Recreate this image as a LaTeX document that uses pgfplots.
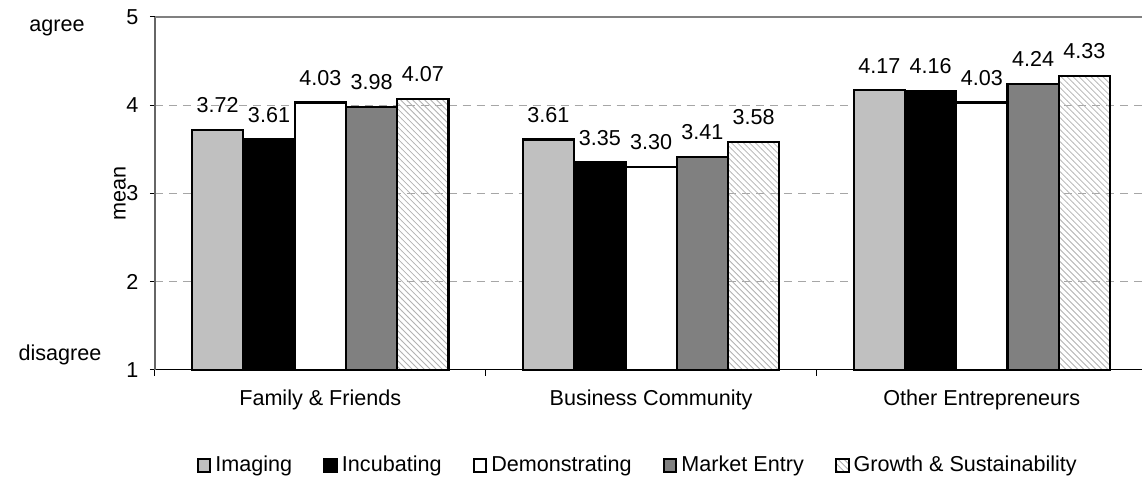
\documentclass[border=0pt]{standalone}
\usepackage{fontspec}
\setmainfont{Liberation Sans}
\usepackage{pgfplots}
\pgfplotsset{compat=1.18}
\usetikzlibrary{patterns}

\definecolor{imaging}{RGB}{192,192,192}
\definecolor{market}{RGB}{128,128,128}

\begin{document}
\fontsize{10.8}{13}\selectfont
\begin{tikzpicture}
\begin{axis}[
  name=ax,
  scale only axis,
  width=494pt, height=176.5pt,
  clip=false,
  ybar=0pt, bar width=0.155,
  xmin=-0.5, xmax=2.485,
  ymin=1, ymax=5,
  ytick={1,2,3,4,5},
  xtick={0,1,2},
  xticklabels={Family \& Friends, Business Community, Other Entrepreneurs},
  minor xtick={-0.5,0.5,1.5},
  major x tick style={draw=none},
  minor x tick style={black, line width=0.5pt},
  minor tick length=3pt,
  major tick length=2.5pt,
  y tick style={black, line width=0.5pt},
  tick align=outside,
  axis x line*=bottom, axis y line*=left,
  x axis line style={black, line width=0.7pt},
  y axis line style={black!60, line width=0.8pt},
  ymajorgrids,
  grid style={gray!70, dash pattern=on 4pt off 3pt, line width=0.4pt},
  /pgf/number format/assume math mode=true,
  xticklabel style={yshift=-4pt},
  yticklabel style={xshift=-2pt},
  nodes near coords={\pgfmathprintnumber[fixed,fixed zerofill,precision=2,assume math mode=true]{\pgfplotspointmeta}},
  every node near coord/.append style={anchor=south, inner sep=0pt, yshift=8pt, black},
  legend columns=5,
  legend style={at={(0.49,0)}, anchor=center, yshift=-48pt, draw=none,
    /tikz/every even column/.append style={column sep=13.5pt}},
  legend image code/.code={\draw[#1, draw=black, line width=1pt] (0pt,-3.2pt) rectangle (6.4pt,3.2pt);},
]
\addplot[fill=imaging, draw=black, line width=1.1pt] coordinates {(0,3.72) (1,3.61) (2,4.17)};
\addplot[fill=black, draw=black, line width=1.1pt] coordinates {(0,3.61) (1,3.35) (2,4.16)};
\addplot[fill=white, draw=black, line width=1.1pt] coordinates {(0,4.03) (1,3.30) (2,4.03)};
\addplot[fill=market, draw=black, line width=1.1pt] coordinates {(0,3.98) (1,3.41) (2,4.24)};
\addplot[pattern=north west lines, pattern color=gray!60, draw=black, line width=1.1pt] coordinates {(0,4.07) (1,3.58) (2,4.33)};
\legend{Imaging, Incubating, Demonstrating, Market Entry, Growth \& Sustainability}
\draw[gray, line width=0.8pt] (rel axis cs:0,1) -- (rel axis cs:1,1);
\node at (axis cs:-0.5,4.875) [xshift=-49pt] {agree};
\node at (axis cs:-0.5,1.17) [xshift=-47.5pt] {disagree};
\end{axis}
\node[rotate=90] at ([xshift=-17.5pt]ax.west) {mean};
\path ([shift={(-77.5pt,-57.5pt)}]ax.south west) rectangle ([shift={(0pt,8.5pt)}]ax.north east);
\end{tikzpicture}
\end{document}
